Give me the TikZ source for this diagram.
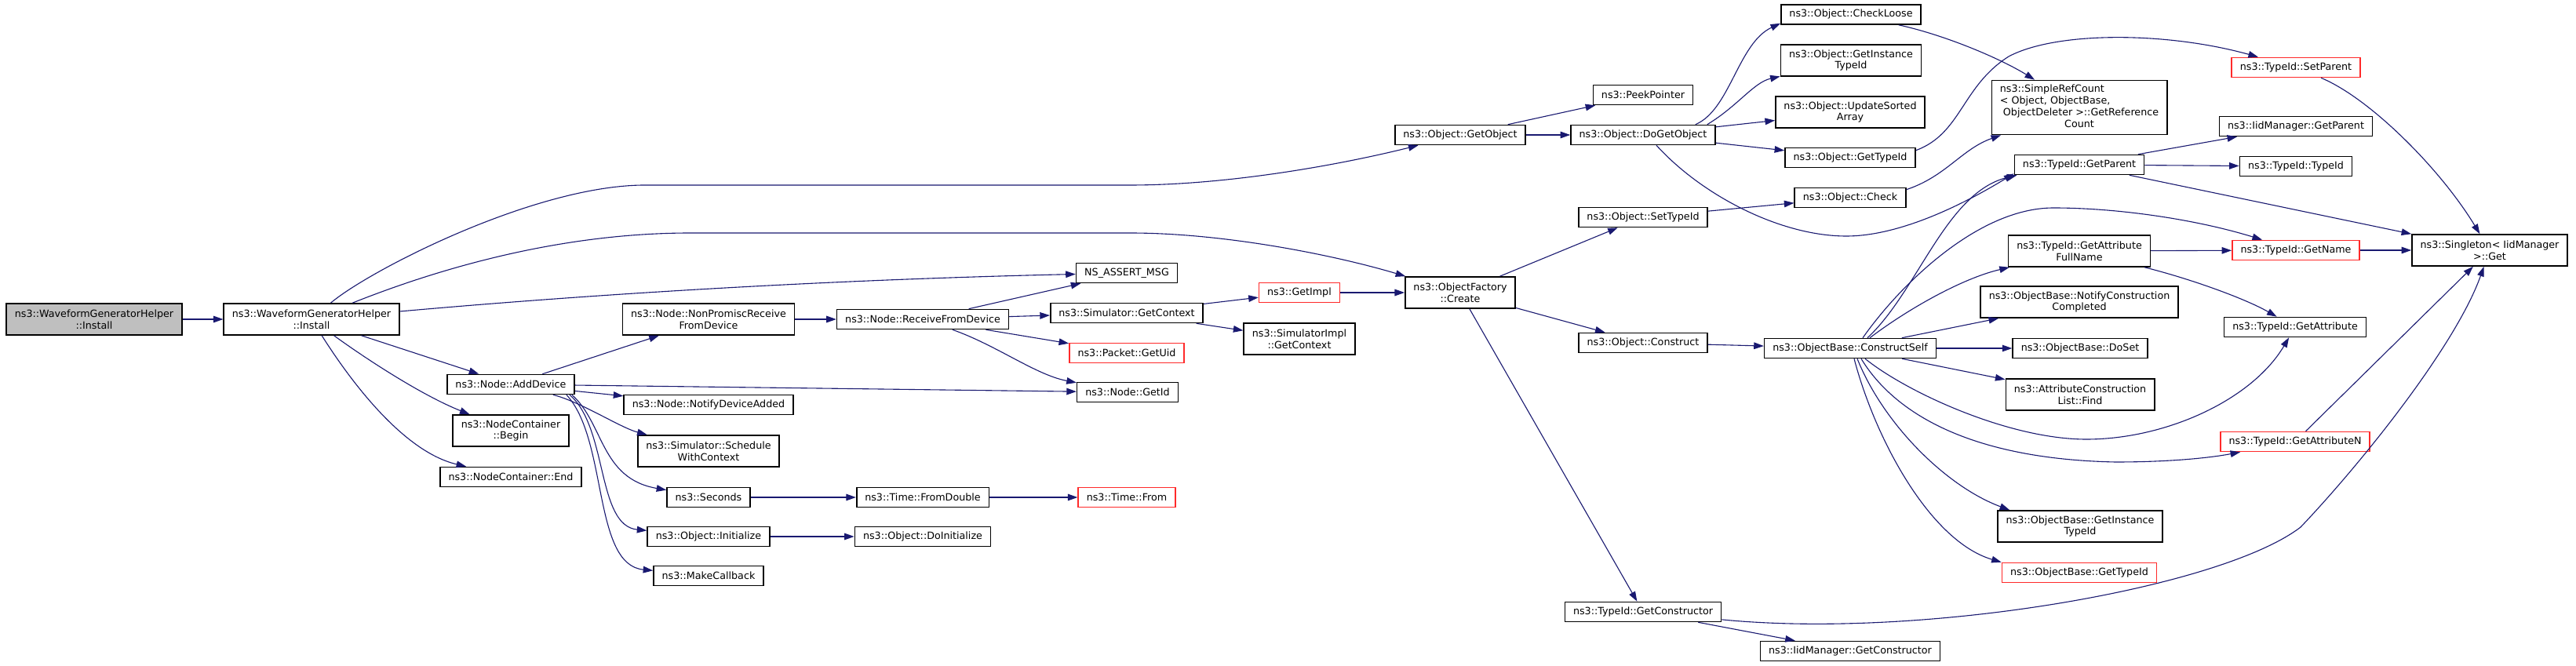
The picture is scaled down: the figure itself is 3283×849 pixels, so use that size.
\documentclass[tikz,border=0pt]{standalone}
\usepackage{fontspec}
\setmainfont{DejaVu Sans}
\usetikzlibrary{arrows.meta}
\definecolor{edgeblue}{HTML}{191970}
\definecolor{rootfill}{HTML}{BFBFBF}
\definecolor{truncred}{HTML}{FF2A2A}

\begin{document}
\begin{tikzpicture}[
  x=0.5pt, y=-0.5pt,
  fn/.style={draw=black, line width=0.8pt, fill=white, align=center, inner xsep=5.3pt,
    inner ysep=1pt, minimum height=12.5pt, font=\fontsize{6.35}{7.4}\selectfont},
  tall/.style={minimum height=20pt},
  root/.style={fn, fill=rootfill},
  trunc/.style={fn, draw=truncred},
  call/.style={-{Triangle[length=6.3pt,width=4.3pt]}, line width=0.55pt, edgeblue}
]
  \useasboundingbox (0,0) rectangle (3283,849);

  \node[root, tall] (helper) at (120,407) {ns3::WaveformGeneratorHelper\\::Install};
  \node[fn, tall] (install) at (397,407) {ns3::WaveformGeneratorHelper\\::Install};
  \node[fn] (adddevice) at (651,490) {ns3::Node::AddDevice};
  \node[fn, tall] (ncbegin) at (651,549) {ns3::NodeContainer\\::Begin};
  \node[fn] (ncend) at (651,608) {ns3::NodeContainer::End};
  \node[fn, tall] (nonpromisc) at (903,407) {ns3::Node::NonPromiscReceive\\FromDevice};
  \node[fn] (notify) at (903,516) {ns3::Node::NotifyDeviceAdded};
  \node[fn, tall] (schedule) at (903,575) {ns3::Simulator::Schedule\\WithContext};
  \node[fn] (seconds) at (903,634) {ns3::Seconds};
  \node[fn] (initialize) at (903,684) {ns3::Object::Initialize};
  \node[fn] (makecb) at (903,734) {ns3::MakeCallback};
  \node[fn] (receive) at (1176,407) {ns3::Node::ReceiveFromDevice};
  \node[fn] (fromdouble) at (1176,634) {ns3::Time::FromDouble};
  \node[fn] (doinit) at (1176,684) {ns3::Object::DoInitialize};
  \node[fn] (assertmsg) at (1436,348) {NS\_ASSERT\_MSG};
  \node[fn] (simcontext) at (1436,399) {ns3::Simulator::GetContext};
  \node[trunc] (getuid) at (1436,450) {ns3::Packet::GetUid};
  \node[fn] (getid) at (1437,500) {ns3::Node::GetId};
  \node[trunc] (timefrom) at (1436,634) {ns3::Time::From};
  \node[trunc] (getimpl) at (1656,373) {ns3::GetImpl};
  \node[fn, tall] (implcontext) at (1656,432) {ns3::SimulatorImpl\\::GetContext};
  \node[fn] (getobject) at (1861,172) {ns3::Object::GetObject};
  \node[fn, tall] (create) at (1861,373) {ns3::ObjectFactory\\::Create};
  \node[fn] (peek) at (2094,121) {ns3::PeekPointer};
  \node[fn] (dogetobject) at (2094,172) {ns3::Object::DoGetObject};
  \node[fn] (settypeid) at (2094,277) {ns3::Object::SetTypeId};
  \node[fn] (construct) at (2094,437) {ns3::Object::Construct};
  \node[fn] (getctor) at (2094,780) {ns3::TypeId::GetConstructor};
  \node[fn] (checkloose) at (2359,18.5) {ns3::Object::CheckLoose};
  \node[fn, tall] (insttypeid) at (2359,77) {ns3::Object::GetInstance\\TypeId};
  \node[fn, tall] (updatesorted) at (2358,143) {ns3::Object::UpdateSorted\\Array};
  \node[fn] (objtypeid) at (2358,201) {ns3::Object::GetTypeId};
  \node[fn] (check) at (2358,252) {ns3::Object::Check};
  \node[fn] (constructself) at (2358,444) {ns3::ObjectBase::ConstructSelf};
  \node[fn] (iidctor) at (2358,830) {ns3::IidManager::GetConstructor};
  \node[fn, minimum height=34.5pt] (refcount) at (2650,137) {\begin{tabular}{@{}l@{}}ns3::SimpleRefCount\\< Object, ObjectBase,\\\ ObjectDeleter >::GetReference\\\multicolumn{1}{@{}c@{}}{Count}\end{tabular}};
  \node[fn] (getparent) at (2650,210) {ns3::TypeId::GetParent};
  \node[fn, tall] (attrfullname) at (2650,320) {ns3::TypeId::GetAttribute\\FullName};
  \node[fn, tall] (notifydone) at (2650,385) {ns3::ObjectBase::NotifyConstruction\\Completed};
  \node[fn] (doset) at (2651,444) {ns3::ObjectBase::DoSet};
  \node[fn, tall] (findattr) at (2651,503) {ns3::AttributeConstruction\\List::Find};
  \node[fn, tall] (baseinsttypeid) at (2651,671) {ns3::ObjectBase::GetInstance\\TypeId};
  \node[trunc] (basetypeid) at (2650,730) {ns3::ObjectBase::GetTypeId};
  \node[trunc] (setparent) at (2926,86) {ns3::TypeId::SetParent};
  \node[fn] (iidparent) at (2926,161) {ns3::IidManager::GetParent};
  \node[fn] (typeidctor) at (2926,212) {ns3::TypeId::TypeId};
  \node[trunc] (getname) at (2926,319) {ns3::TypeId::GetName};
  \node[fn] (getattr) at (2925,417) {ns3::TypeId::GetAttribute};
  \node[trunc] (getattrn) at (2925,563) {ns3::TypeId::GetAttributeN};
  \node[fn, tall] (singleton) at (3173,319) {ns3::Singleton< IidManager\\>::Get};

  \draw[call] (helper) -- (install);
  \draw[call] (install) .. controls (470,345) and (680,237) .. (820,236) -- (1440,236) .. controls (1560,236) and (1700,212) .. (getobject);
  \draw[call] (install) .. controls (540,350) and (700,297) .. (880,297) -- (1440,297) .. controls (1560,297) and (1700,325) .. (create);
  \draw[call] (install) .. controls (700,380) and (1000,358) .. (assertmsg);
  \draw[call] (install) -- (adddevice);
  \draw[call] (install) .. controls (470,460) and (540,505) .. (ncbegin);
  \draw[call] (install) .. controls (440,475) and (510,575) .. (ncend);
  \draw[call] (adddevice) -- (nonpromisc);
  \draw[call] (adddevice) -- (getid);
  \draw[call] (adddevice) -- (notify);
  \draw[call] (adddevice) .. controls (740,512) and (790,545) .. (schedule);
  \draw[call] ([xshift=-2pt]adddevice.south east) .. controls (770,540) and (765,610) .. (seconds);
  \draw[call] ([xshift=-3.5pt]adddevice.south east) .. controls (775,545) and (760,670) .. (initialize);
  \draw[call] ([xshift=-5.5pt]adddevice.south east) .. controls (775,560) and (755,720) .. (makecb);
  \draw[call] (nonpromisc) -- (receive);
  \draw[call] (receive) -- (assertmsg);
  \draw[call] (receive) -- (simcontext);
  \draw[call] (receive) -- (getuid);
  \draw[call] (receive) .. controls (1270,440) and (1320,478) .. (getid);
  \draw[call] (simcontext) -- (getimpl);
  \draw[call] (simcontext) -- (implcontext);
  \draw[call] (getimpl) -- (create);
  \draw[call] (seconds) -- (fromdouble);
  \draw[call] (fromdouble) -- (timefrom);
  \draw[call] (initialize) -- (doinit);
  \draw[call] (getobject) -- (peek);
  \draw[call] (getobject) -- (dogetobject);
  \draw[call] ([xshift=-13pt]dogetobject.north east) .. controls (2205,140) and (2215,55) .. ([yshift=1pt]checkloose.south west);
  \draw[call] ([xshift=-5.5pt]dogetobject.north east) .. controls (2215,135) and (2235,105) .. (insttypeid);
  \draw[call] (dogetobject) -- (updatesorted);
  \draw[call] (dogetobject) -- (objtypeid);
  \draw[call] ([xshift=8.5pt]dogetobject.south) .. controls (2170,250) and (2270,301) .. (2353,301) .. controls (2420,301) and (2500,262) .. ([yshift=1pt]getparent.south west);
  \draw[call] (checkloose) .. controls (2480,45) and (2550,75) .. (refcount);
  \draw[call] ([yshift=-2pt]objtypeid.north east) .. controls (2500,170) and (2500,110) .. (2560,72) .. controls (2620,40) and (2760,40) .. (setparent);
  \draw[call] ([yshift=-1.5pt]check.north east) .. controls (2480,225) and (2500,190) .. (refcount);
  \draw[call] (create) -- (settypeid);
  \draw[call] (create) -- (construct);
  \draw[call] (create) -- (getctor);
  \draw[call] (settypeid) -- (check);
  \draw[call] (construct) -- (constructself);
  \draw[call] ([xshift=11pt]constructself.north) .. controls (2445,370) and (2480,245) .. ([xshift=2pt]getparent.south west);
  \draw[call] ([xshift=8pt]constructself.north) .. controls (2420,365) and (2520,265) .. (2617,265) .. controls (2700,265) and (2800,280) .. (getname);
  \draw[call] ([xshift=12.5pt]constructself.north) .. controls (2430,395) and (2500,355) .. (attrfullname);
  \draw[call] (constructself) -- (notifydone);
  \draw[call] (constructself) -- (doset);
  \draw[call] (constructself) -- (findattr);
  \draw[call] ([xshift=9.5pt]constructself.south) .. controls (2430,500) and (2560,560) .. (2659,560) .. controls (2760,560) and (2870,510) .. (getattr);
  \draw[call] ([xshift=7pt]constructself.south) .. controls (2410,520) and (2500,585) .. (2696,589) .. controls (2770,589) and (2820,583) .. (getattrn);
  \draw[call] ([xshift=4.5pt]constructself.south) .. controls (2400,540) and (2480,620) .. ([xshift=8pt]baseinsttypeid.north west);
  \draw[call] ([xshift=2.5pt]constructself.south) .. controls (2390,560) and (2460,690) .. (basetypeid.north west);
  \draw[call] (getparent) -- (iidparent);
  \draw[call] (getparent) -- (typeidctor);
  \draw[call] (getparent) -- (singleton);
  \draw[call] (setparent) .. controls (3020,125) and (3110,215) .. (singleton);
  \draw[call] (getname) -- (singleton);
  \draw[call] (attrfullname) -- (getname);
  \draw[call] (attrfullname) .. controls (2790,355) and (2860,380) .. (getattr);
  \draw[call] (getattrn) -- (singleton);
  \draw[call] (getctor) .. controls (2450,815) and (2830,750) .. (2932,672) .. controls (3010,590) and (3130,440) .. (singleton);
  \draw[call] (getctor) -- (iidctor);
\end{tikzpicture}
\end{document}
